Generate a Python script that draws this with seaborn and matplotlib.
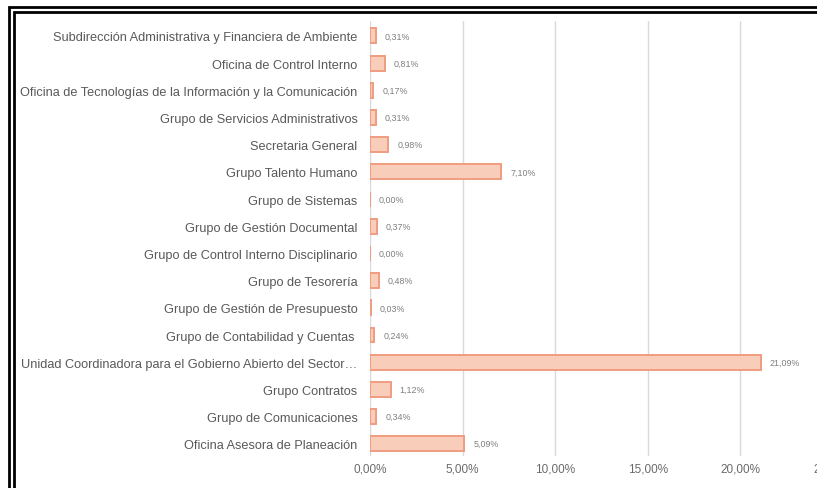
import matplotlib
matplotlib.use("Agg")
import matplotlib.pyplot as plt
import seaborn as sns
import pandas as pd
from matplotlib.ticker import FuncFormatter
from matplotlib.patches import Rectangle


# datos
dependencias = [
    "Subdirección Administrativa y Financiera de Ambiente",
    "Oficina de Control Interno",
    "Oficina de Tecnologías de la Información y la Comunicación",
    "Grupo de Servicios Administrativos",
    "Secretaria General",
    "Grupo Talento Humano",
    "Grupo de Sistemas",
    "Grupo de Gestión Documental",
    "Grupo de Control Interno Disciplinario",
    "Grupo de Tesorería",
    "Grupo de Gestión de Presupuesto",
    "Grupo de Contabilidad y Cuentas ",
    "Unidad Coordinadora para el Gobierno Abierto del Sector…",
    "Grupo Contratos",
    "Grupo de Comunicaciones",
    "Oficina Asesora de Planeación",
]
porcentajes = [0.31, 0.81, 0.17, 0.31, 0.98, 7.10, 0.00, 0.37,
               0.00, 0.48, 0.03, 0.24, 21.09, 1.12, 0.34, 5.09]
ticks_x = [0, 5, 10, 15, 20, 25]

FILL = "#F8CDB9"
EDGE = "#F09C80"
GRIS = "#595959"

sns.set_style("white")
plt.rcParams["font.family"] = ["Liberation Sans", "DejaVu Sans"]

df = pd.DataFrame({"dep": dependencias, "pct": porcentajes})

fig = plt.figure(figsize=(8.17, 4.89), dpi=100)
ax = fig.add_axes([370 / 817, 1 - 457 / 489, 463 / 817, 435 / 489])

sns.barplot(data=df, y="dep", x="pct", orient="h", ax=ax,
            color=FILL, edgecolor=EDGE, linewidth=1.4, width=0.55,
            saturation=1)

ax.set_xlim(0, 25)
ax.set_ylim(15.45, -0.55)
ax.set_xticks(ticks_x)
ax.xaxis.set_major_formatter(FuncFormatter(lambda v, p: f"{v:.2f}%".replace(".", ",")))
ax.grid(axis="x", color="#D9D9D9", linewidth=1)
ax.set_axisbelow(True)
for s in ax.spines.values():
    s.set_visible(False)
ax.set_xlabel("")
ax.set_ylabel("")
ax.tick_params(axis="y", length=0, pad=9, labelsize=9.2, labelcolor=GRIS)
ax.tick_params(axis="x", length=0, pad=5, labelsize=8.5, labelcolor="#6B6B6B")

for i, v in enumerate(porcentajes):
    ax.annotate(f"{v:.2f}%".replace(".", ","), (v, i), xytext=(6.5, 0),
                textcoords="offset points", va="center", ha="left",
                fontsize=6.4, color="#7F7F7F")

# marco doble
fig.patches.append(Rectangle((9 / 817, -0.1), 1.2, 1 - 8 / 489 + 0.1,
                             transform=fig.transFigure, fill=False,
                             edgecolor="black", linewidth=2))
fig.patches.append(Rectangle((13.5 / 817, -0.1), 1.2, 1 - 13 / 489 + 0.1,
                             transform=fig.transFigure, fill=False,
                             edgecolor="black", linewidth=2))

fig.savefig("out.png", dpi=100)
